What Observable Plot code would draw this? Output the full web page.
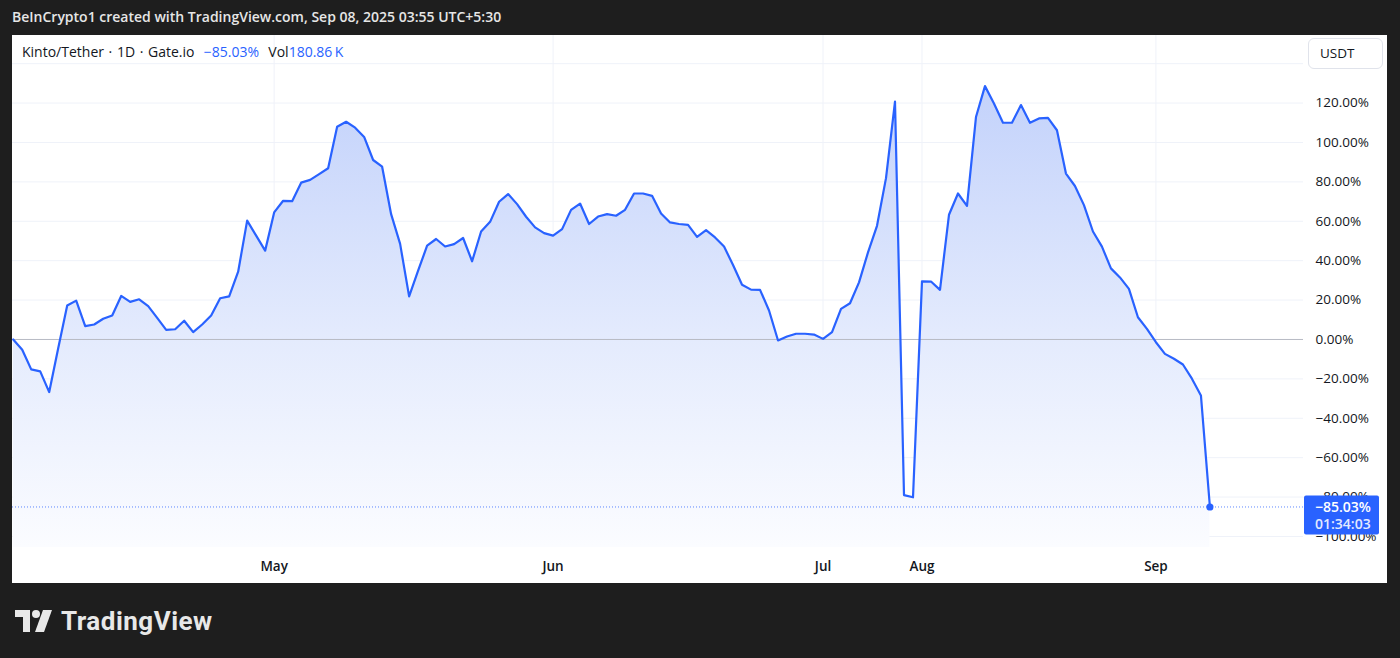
<!DOCTYPE html>
<html>
<head>
<meta charset="utf-8">
<script src="https://cdn.jsdelivr.net/npm/d3@7"></script>
<script src="https://cdn.jsdelivr.net/npm/@observablehq/plot@0.6"></script>
<style>
  html, body { margin:0; padding:0; width:1400px; height:658px; overflow:hidden; background:#1e1e1e;
    font-family: "Open Sans", Roboto, "Liberation Sans", sans-serif; }
  #hdr { position:absolute; left:12px; top:0; height:35px; line-height:34px; color:#e6e6e6; font-size:14px; font-weight:600; white-space:nowrap; }
  #panel { position:absolute; left:12px; top:35px; width:1375px; height:548px; background:#ffffff; overflow:hidden; }
  #chart { position:absolute; left:0; top:0; }
  #legend { position:absolute; left:10px; top:7px; font-size:14px; line-height:19px; color:#131722; white-space:pre; word-spacing:1px; }
  #legend .blue { color:#2962ff; }
  #usdt { position:absolute; left:1296px; top:3px; width:75px; height:31px; box-sizing:border-box; border:1px solid #e0e3eb;
    border-radius:6px; font-size:13.5px; color:#131722; line-height:29px; padding-left:11px; background:#fff; }
  #footer { position:absolute; left:15px; top:606px; height:30px; display:flex; align-items:center; color:#e8e8e8; }
  #footer span { font-family: Roboto, "Open Sans", sans-serif; font-size:26px; font-weight:700; margin-left:8px; letter-spacing:0.5px; }
</style>
</head>
<body>
<div id="hdr"></div>
<div id="panel">
  <div id="chart"></div>
  <div id="legend"></div>
  <div id="usdt"></div>
</div>
<div id="footer">
  <svg width="38" height="24" viewBox="0 0 38 24">
    <path d="M0 1 H15 V23 H8 V8 H0 Z" fill="#e8e8e8"/>
    <circle cx="21" cy="5" r="4" fill="#e8e8e8"/>
    <path d="M28 1 H37 L29 23 H20 Z" fill="#e8e8e8"/>
  </svg>
  <span id="brand"></span>
</div>
<script>
// ---- texts ----
const headerText = "BeInCrypto1 created with TradingView.com, Sep 08, 2025 03:55 UTC+5:30";
const symbolText = "Kinto/Tether · 1D · Gate.io";
const changeText = "−85.03%";
const volLabel = "Vol";
const volValue = "180.86\u2009K";
const currencyText = "USDT";
const brandText = "TradingView";
const countdownText = "01:34:03";

// ---- data: daily % change vs first bar (bar index order) ----
const pctValues = [
  0.0, -5.2, -15.2, -16.2, -26.7, -4.5, 17.2, 19.7, 6.8, 7.6,
  10.5, 12.2, 22.1, 19.1, 20.4, 16.9, 11.0, 4.9, 5.2, 9.5,
  3.7, 7.6, 12.2, 20.9, 21.9, 34.4, 60.3, 52.7, 45.1, 64.5,
  70.4, 70.2, 79.6, 81.0, 83.9, 86.9, 108.0, 110.5, 107.5, 102.8,
  91.1, 87.7, 63.6, 48.5, 21.9, 34.9, 47.6, 51.0, 47.2, 48.4,
  51.5, 39.7, 54.8, 59.7, 69.9, 73.8, 68.7, 62.3, 56.9, 54.0,
  52.7, 56.0, 65.8, 69.0, 58.6, 62.4, 63.6, 62.8, 65.8, 74.1,
  74.1, 72.9, 63.9, 59.4, 58.6, 58.2, 52.1, 55.5, 51.8, 47.2,
  37.8, 27.8, 25.3, 25.2, 14.7, -0.5, 1.5, 2.9, 2.9, 2.5,
  0.3, 3.7, 15.5, 18.4, 29.0, 44.2, 57.7, 81.9, 120.7, -79.0,
  -80.1, 29.5, 29.4, 25.2, 63.3, 74.1, 67.8, 112.9, 128.6, 119.8,
  110.0, 110.0, 119.0, 110.0, 112.2, 112.5, 106.2, 84.2, 77.9, 68.2,
  54.8, 47.1, 36.1, 31.5, 25.7, 11.3, 5.4, -1.4, -7.3, -9.8,
  -12.7, -19.9, -28.4, -85.03
];
const monthLabels = ["May", "Jun", "Jul", "Aug", "Sep"];
const monthBarIndex = [29, 60, 90, 101, 127];
const yTickValues = [-100, -80, -60, -40, -20, 0, 20, 40, 60, 80, 100, 120];
const yGridValues = [-100, -80, -60, -40, -20, 0, 20, 40, 60, 80, 100, 120, 140];

// ---- html texts ----
document.getElementById("hdr").textContent = headerText;
document.getElementById("usdt").textContent = currencyText;
document.getElementById("brand").textContent = brandText;
const lg = document.getElementById("legend");
const s1 = document.createElement("span"); s1.textContent = symbolText + "  ";
const s2 = document.createElement("span"); s2.className = "blue"; s2.textContent = changeText + "  ";
const s3 = document.createElement("span"); s3.textContent = volLabel;
const s4 = document.createElement("span"); s4.className = "blue"; s4.textContent = volValue;
lg.append(s1, s2, s3, s4);

// ---- chart ----
const data = pctValues.map((v, i) => ({i, v}));
const last = data[data.length - 1];
const yMin = -105.6, yMax = 154.3;
const fmt = v => (v < 0 ? "\u2212" : "") + Math.abs(v).toFixed(2) + "%";
const blue = "#2962ff";
const font = '"Open Sans", Roboto, "Liberation Sans", sans-serif';

const plot = Plot.plot({
  width: 1375,
  height: 548,
  marginLeft: 0,
  marginRight: 84,
  marginTop: 0,
  marginBottom: 36,
  x: {domain: [-0.08, 143.4], axis: null},
  y: {domain: [yMin, yMax], axis: null},
  style: {fontFamily: font, fontSize: "13px", color: "#131722", background: "transparent", overflow: "visible"},
  marks: [
    Plot.ruleY(yGridValues, {stroke: "#eff2f9", strokeWidth: 1}),
    Plot.ruleX(monthBarIndex, {stroke: "#eff2f9", strokeWidth: 1}),
    Plot.areaY(data, {x: "i", y1: yMin, y2: "v", fill: "url(#tvAreaGrad)"}),
    Plot.ruleY([0], {stroke: "#b8bbc4", strokeWidth: 1}),
    Plot.ruleY([last.v], {stroke: blue, strokeOpacity: 0.75, strokeDasharray: "1,2", strokeWidth: 1}),
    Plot.lineY(data, {x: "i", y: "v", stroke: blue, strokeWidth: 2.2, strokeLinejoin: "round", strokeLinecap: "round"}),
    Plot.dot([last], {x: "i", y: "v", r: 3.6, fill: blue, stroke: "none"}),
    Plot.axisY(yTickValues, {anchor: "right", label: null, tickSize: 0, tickPadding: 12, tickFormat: fmt, fontSize: 13.5}),
    Plot.axisX(monthBarIndex, {anchor: "bottom", label: null, tickSize: 0, tickPadding: 14, fontSize: 13.5, fontWeight: 600,
      tickFormat: d => monthLabels[monthBarIndex.indexOf(d)]})
  ]
});

// gradient definition for the area
const svg = d3.select(plot);
const defs = svg.insert("defs", ":first-child");
const grad = defs.append("linearGradient").attr("id", "tvAreaGrad").attr("x1", 0).attr("y1", 0).attr("x2", 0).attr("y2", 1);
grad.append("stop").attr("offset", "0%").attr("stop-color", "#c3d2fb");
grad.append("stop").attr("offset", "55%").attr("stop-color", "#e4ebfd");
grad.append("stop").attr("offset", "100%").attr("stop-color", "#fbfcff");

// last-value price label on the right scale
const ys = plot.scale("y");
const xs = plot.scale("x");
const yPx = ys.apply(last.v);
const xRight = xs.range[1];
const g = svg.append("g").attr("text-anchor", "start").attr("font-family", font);
g.append("rect").attr("x", xRight + 1).attr("y", yPx - 11).attr("width", 75).attr("height", 39)
  .attr("rx", 2).attr("fill", blue);
g.append("text").attr("x", xRight + 12).attr("y", yPx + 1).attr("dy", "0.35em")
  .attr("fill", "#ffffff").attr("font-size", 14).attr("font-weight", 600).text(fmt(last.v));
g.append("text").attr("x", xRight + 12).attr("y", yPx + 18).attr("dy", "0.35em")
  .attr("fill", "#e3eaff").attr("font-size", 14).attr("font-weight", 600).text(countdownText);

document.getElementById("chart").append(plot);
</script>
</body>
</html>
